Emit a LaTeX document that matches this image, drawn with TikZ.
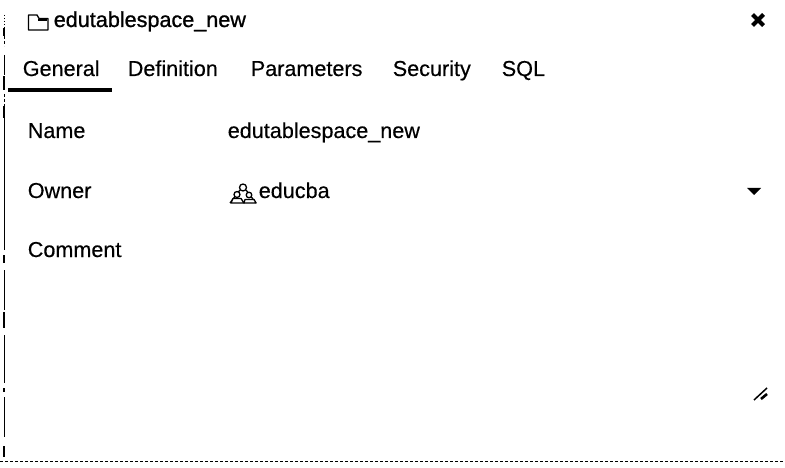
\documentclass[tikz,border=0pt]{standalone}
\usepackage{fontspec}
\setmainfont{Liberation Sans}[FakeBold=0.4]
\newfontfamily\titlefont{Liberation Sans}[FakeBold=1]
\usepackage{tikz}
\usetikzlibrary{positioning}
\begin{document}
\begin{tikzpicture}[x=1pt,y=-1pt,semithick]
	\tikzstyle{lab}=[inner sep=0pt, anchor=base west, font=\fontsize{21.6}{24}\selectfont]
	\tikzstyle{icon}=[line width=1.3pt, line join=round]
	\tikzstyle{edge}=[line width=1pt]
	\tikzstyle{edgeb}=[line width=2.2pt]
	\useasboundingbox (0,0) rectangle (785,468);
	% title bar
	\node[lab] (title) at (53.5,27) {\titlefont edutablespace\_new};
	\draw[icon] (28.5,30) -- (28.5,15) -- (37,15) -- (39,18.5) -- (48,18.5) -- (48,30) -- cycle;
	\draw[icon] (38,20) -- (47,20);
	\draw[line width=4pt] (752.5,14.5) -- (763.5,25.5);
	\draw[line width=4pt] (763.5,14.5) -- (752.5,25.5);
	% tabs
	\node[lab] (general) at (22.5,76) {General};
	\node[lab] (definition) at (127.5,76) {Definition};
	\node[lab] (parameters) at (250.5,76) {Parameters};
	\node[lab] (security) at (392.5,76) {Security};
	\node[lab] (sql) at (501.5,76) {SQL};
	\draw[line width=3.4pt] (8,90) -- (112,90);
	% form
	\node[lab] (name) at (27.5,138) {Name};
	\node[lab] (owner) at (27.5,198) {Owner};
	\node[lab] (comment) at (27.5,257) {Comment};
	\node[lab] (namev) at (227.5,138) {edutablespace\_new};
	\node[lab] (ownerv) at (258.5,198) {educba};
	% group icon
	\draw[icon] (230,203) -- (240,190);
	\draw[icon] (246,190) -- (256,203);
	\draw[icon,fill=white] (243,187.5) circle (3.5);
	\draw[icon,fill=white] (237,194.5) circle (3);
	\draw[icon,fill=white] (249,195) circle (2.8);
	\draw[icon,fill=white] (231,203) -- (233,198.5) -- (241,198.5) -- (244,203) -- cycle;
	\draw[icon,fill=white] (244,203) -- (245,199.5) -- (254,199.5) -- (256,203) -- cycle;
	% dropdown and resize marks
	\fill (747,188) -- (761,188) -- (754,195) -- cycle;
	\draw[line width=1.5pt] (754,400) -- (767,388);
	\draw[line width=2.6pt] (761,399) -- (767,394);
	% frame
	\draw[densely dashed, line width=1pt] (0,461) -- (785,461);
	\draw[edge,dotted] (4,15) -- (4,28);
	\draw[edgeb] (4,28) -- (4,36);
	\draw[edge,densely dashed] (4,36) -- (4,46);
	\draw[edge] (4,55) -- (4,75);
	\draw[edgeb] (4,76) -- (4,90);
	\draw[edge,densely dashed] (4,94) -- (4,108);
	\draw[edgeb] (4,106) -- (4,118);
	\draw[edge] (4,118) -- (4,250);
	\draw[edgeb] (4,255) -- (4,263);
	\draw[edge] (4,270) -- (4,310);
	\draw[edgeb] (4,312) -- (4,328);
	\draw[edge] (4,335) -- (4,383);
	\draw[edgeb] (4,388) -- (4,392);
	\draw[edge] (4,397) -- (4,437);
	\draw[edgeb] (4,446) -- (4,457);
\end{tikzpicture}
\end{document}
